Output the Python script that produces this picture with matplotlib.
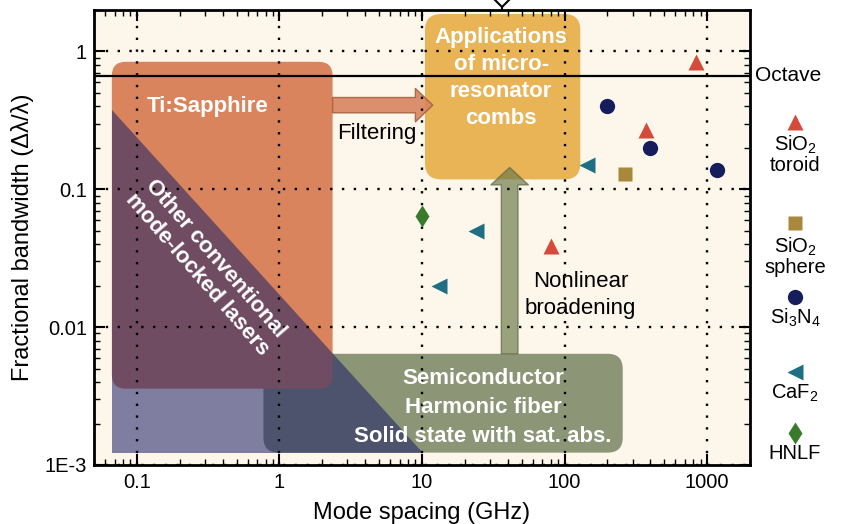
import matplotlib
matplotlib.use("Agg")
import matplotlib.pyplot as plt
import matplotlib.transforms as mtransforms
from matplotlib.patches import FancyBboxPatch, Polygon, FancyArrowPatch
from matplotlib.lines import Line2D
from matplotlib.ticker import NullFormatter, LogLocator

plt.rcParams['font.family'] = ['Liberation Sans', 'DejaVu Sans']
plt.rcParams['mathtext.fontset'] = 'custom'
plt.rcParams['mathtext.rm'] = 'Liberation Sans'
plt.rcParams['mathtext.it'] = 'Liberation Sans:italic'
plt.rcParams['mathtext.default'] = 'regular'

# ---------------- data ----------------
toroid_x = [840, 370, 80]
toroid_y = [0.84, 0.27, 0.039]
sphere_x = [265]
sphere_y = [0.13]
si3n4_x = [200, 400, 1170]
si3n4_y = [0.40, 0.20, 0.138]
caf2_x = [144, 24, 13.2]
caf2_y = [0.15, 0.05, 0.02]
hnlf_x = [10]
hnlf_y = [0.064]

octave = 2.0 / 3.0

x_ticks = [0.1, 1, 10, 100, 1000]
x_tick_labels = ['0.1', '1', '10', '100', '1000']
y_ticks = [1e-3, 0.01, 0.1, 1]
y_tick_labels = ['1E-3', '0.01', '0.1', '1']

# regions (x0, x1, y0, y1) in data units
ti_sapphire = (0.0667, 2.36, 0.00358, 0.842)
semicond = (0.772, 256, 0.00123, 0.00641)
applications = (10.5, 129, 0.118, 1.87)
other_tri = [(0.0667, 0.379), (0.0667, 0.00123), (10.2, 0.00123)]

series = [
    ('SiO$_2$\ntoroid', toroid_x, toroid_y, '^', '#d64a3b', 11.5),
    ('SiO$_2$\nsphere', sphere_x, sphere_y, 's', '#a8883a', 10),
    ('Si$_3$N$_4$', si3n4_x, si3n4_y, 'o', '#161d5c', 11),
    ('CaF$_2$', caf2_x, caf2_y, '<', '#1f6f84', 11.5),
    ('HNLF', hnlf_x, hnlf_y, 'd', '#3a7a2c', 11.5),
]

# ---------------- layout ----------------
FW, FH = 842, 524
fig = plt.figure(figsize=(FW / 100, FH / 100), dpi=100)
L, R, B, T = 94, 750, 465, 10
ax = fig.add_axes([L / FW, 1 - B / FH, (R - L) / FW, (B - T) / FH])
ax.set_facecolor('#fcf7ea')
ax.set_xscale('log')
ax.set_yscale('log')
ax.set_xlim(0.05, 2000)
ax.set_ylim(1e-3, 2)

ax.set_xticks(x_ticks)
ax.set_xticklabels(x_tick_labels)
ax.set_yticks(y_ticks)
ax.set_yticklabels(y_tick_labels)
ax.xaxis.set_minor_locator(LogLocator(base=10, subs=range(2, 10), numticks=20))
ax.yaxis.set_minor_locator(LogLocator(base=10, subs=range(2, 10), numticks=20))
ax.xaxis.set_minor_formatter(NullFormatter())
ax.yaxis.set_minor_formatter(NullFormatter())
ax.tick_params(which='both', direction='in', top=True, right=True, labelsize=14.5)
ax.tick_params(which='major', length=8, width=1.5)
ax.tick_params(which='minor', length=4, width=1.0)
ax.tick_params(axis='x', pad=6)
ax.tick_params(axis='y', pad=5)
for s in ax.spines.values():
    s.set_linewidth(2)

ax.set_axisbelow(False)
ax.grid(True, which='major', color='black', linestyle=(0, (1, 4)), linewidth=1.7)

ax.set_xlabel('Mode spacing (GHz)', fontsize=17, labelpad=7)
ax.set_ylabel('Fractional bandwidth (Δλ/λ)', fontsize=17, labelpad=8)

# rounded boxes (drawn in axes coords so corners stay circular)
Wpx, Hpx = R - L, B - T
to_axes = ax.transData + ax.transAxes.inverted()


def rbox(ext, color, z, r_px=14):
    x0, x1, y0, y1 = ext
    (a0, b0), (a1, b1) = to_axes.transform([(x0, y0), (x1, y1)])
    p = FancyBboxPatch((a0, b0), a1 - a0, b1 - b0,
                       boxstyle=f"round,pad=0,rounding_size={r_px / Wpx}",
                       mutation_aspect=Wpx / Hpx, transform=ax.transAxes,
                       fc=color, ec='none', zorder=z)
    ax.add_patch(p)


rbox(semicond, '#8c9676', 1.0, 15)
rbox(ti_sapphire, '#da845d', 1.1, 14)
rbox(applications, '#e8b456', 1.2, 16)
ax.add_patch(Polygon(other_tri, closed=True, fc='#1e2066', alpha=0.56,
                     ec='none', zorder=1.5))

# arrows
filt = FancyArrowPatch((ti_sapphire[1], 0.408), (11.9, 0.408),
                       arrowstyle='simple,head_length=12.5,head_width=24,tail_width=11',
                       mutation_scale=1, shrinkA=0, shrinkB=0,
                       fc='#d9845f', ec='#a4603f', lw=1.0, alpha=0.9, zorder=1.8)
ax.add_patch(filt)
nl = FancyArrowPatch((41.2, semicond[3]), (41.2, 0.144),
                     arrowstyle='simple,head_length=12.5,head_width=27,tail_width=12',
                     mutation_scale=1, shrinkA=0, shrinkB=0,
                     fc='#6c7a4a', ec='#5c6640', lw=1.0, alpha=0.68, zorder=1.8)
ax.add_patch(nl)

# octave line
ax.axhline(octave, color='black', lw=1.6, zorder=2.6)
ax.text(1.008, octave, 'Octave', transform=mtransforms.blended_transform_factory(ax.transAxes, ax.transData),
        fontsize=15, va='center', ha='left')

# region labels
wk = dict(color='white', fontweight='bold', fontsize=16, ha='center', va='center', zorder=4)
ax.text(0.312, 0.398, 'Ti:Sapphire', **wk)
ax.text(35.9, 0.64, 'Applications\nof micro-\nresonator\ncombs', linespacing=1.38, **wk)
ax.text(26.8, 0.00262, 'Semiconductor\nHarmonic fiber\nSolid state with sat. abs.', linespacing=1.5, **wk)
ax.text(0.307, 0.0273, 'Other conventional\nmode-locked lasers', rotation=-49,
        rotation_mode='anchor', linespacing=1.2, **wk)
ax.text(4.8, 0.254, 'Filtering', fontsize=16, ha='center', va='center', zorder=4)
ax.text(129.6, 0.0171, 'Nonlinear\nbroadening', fontsize=16, ha='center', va='center',
        linespacing=1.35, zorder=4)

# data points
for label, xs, ys, m, c, ms in series:
    ax.plot(xs, ys, linestyle='none', marker=m, color=c, ms=ms, mec='none', zorder=3)

# legend to the right (pixel layout, y downward)
pix = mtransforms.Affine2D().scale(1, -1).translate(0, FH).scale(1 / FW, 1 / FH) + fig.transFigure
leg_x = 795
leg_marker_y = [122, 223, 297, 372, 433]
leg_text_y = [134, 236, 307, 383, 444]
for (label, xs, ys, m, c, ms), my, ty in zip(series, leg_marker_y, leg_text_y):
    fig.add_artist(Line2D([leg_x], [my], marker=m, color=c, ms=ms, mec='none',
                          linestyle='none', transform=pix))
    fig.text(leg_x, ty, label, transform=pix, ha='center', va='top', fontsize=14.5,
             linespacing=1.0)

# small bracket stub at the top
fig.add_artist(Line2D([495, 502, 509], [0, 7, 0], color='black', lw=1.5, transform=pix))
fig.add_artist(Line2D([502, 502], [7, 10], color='black', lw=1.5, transform=pix))

fig.savefig('out.png', dpi=100)
